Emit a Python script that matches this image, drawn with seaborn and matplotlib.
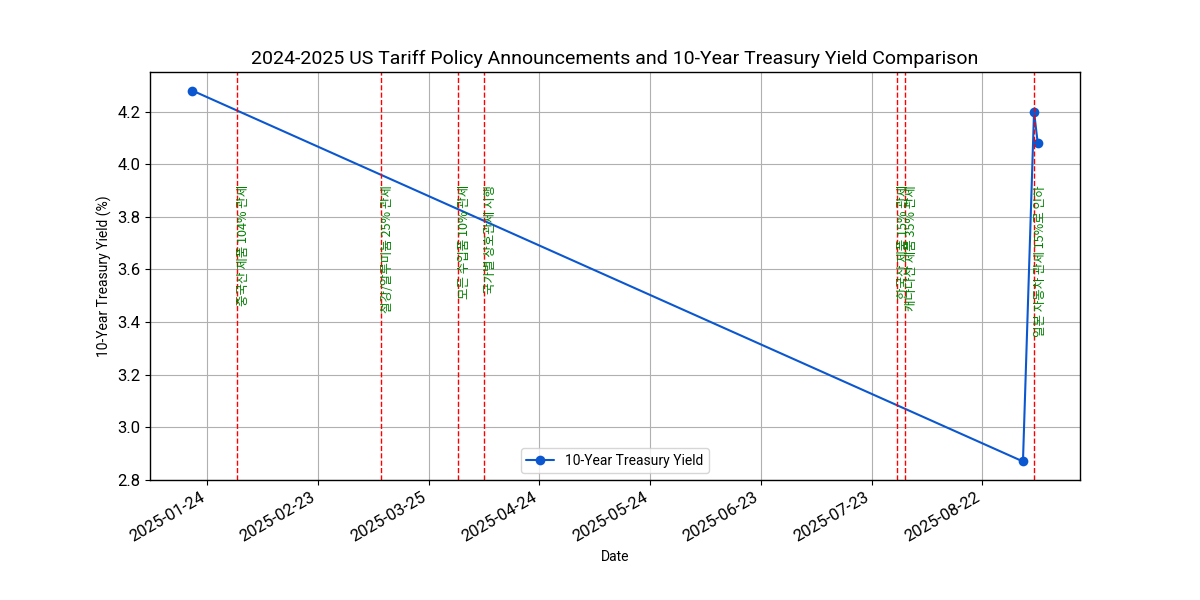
import matplotlib
matplotlib.use("Agg")
import matplotlib.pyplot as plt
import matplotlib.dates as mdates
import seaborn as sns
import pandas as pd

# Data
yield_dates = ["2025-01-20", "2025-09-02", "2025-09-05", "2025-09-06"]
yield_values = [4.28, 2.87, 4.20, 4.08]

event_dates = ["2025-02-01", "2025-03-12", "2025-04-02", "2025-04-09",
               "2025-07-30", "2025-08-01", "2025-09-05"]
event_labels = ["중국산 제품 104% 관세", "철강/알루미늄 25% 관세", "모든 수입품 10% 관세",
                "국가별 상호관세 시행", "한국산 제품 15% 관세", "캐나다산 제품 35% 관세",
                "일본 자동차 관세 15%로 인하"]

sns.set_style("ticks")
plt.rcParams['font.family'] = ['Roboto', 'Noto Sans CJK KR', 'DejaVu Sans']
plt.rcParams['axes.unicode_minus'] = False
for k in ["text.color", "axes.labelcolor", "xtick.color", "ytick.color"]:
    plt.rcParams[k] = "black"

df = pd.DataFrame({"Date": pd.to_datetime(yield_dates), "Yield": yield_values})

fig, ax = plt.subplots(figsize=(12, 6), dpi=100)
sns.lineplot(data=df, x="Date", y="Yield", marker="o", color="#0b57d0",
             linewidth=1.5, markersize=7, markeredgewidth=0,
             label="10-Year Treasury Yield", ax=ax)

for d, lab in zip(pd.to_datetime(event_dates), event_labels):
    ax.axvline(d, color="red", linestyle="--", linewidth=1)
    ax.text(d, 3.92, lab, rotation=90, color="green", fontsize=9,
            ha="left", va="top",
            family=['Noto Sans CJK KR', 'DejaVu Sans'])

ax.grid(True, color="#b0b0b0", linewidth=0.8)
ax.set_axisbelow(True)
locs = pd.date_range("2025-01-24", "2025-09-30", freq="30D")
ax.set_xticks(locs)
ax.xaxis.set_major_formatter(mdates.DateFormatter("%Y-%m-%d"))
ax.set_xlim(pd.Timestamp("2025-01-20") - pd.Timedelta(days=11.45),
            pd.Timestamp("2025-09-06") + pd.Timedelta(days=11.45))

ax.set_title("2024-2025 US Tariff Policy Announcements and 10-Year Treasury Yield Comparison", fontsize=14)
ax.set_xlabel("Date", fontsize=10)
ax.set_ylabel("10-Year Treasury Yield (%)", fontsize=10)
ax.tick_params(axis="x", labelsize=12)
ax.tick_params(axis="y", labelsize=12)
ax.legend(loc="lower center", fontsize=10)
for s in ax.spines.values():
    s.set_linewidth(1)
    s.set_color("black")

fig.autofmt_xdate()
fig.subplots_adjust(left=0.125, right=0.9, top=0.88, bottom=0.2)
fig.savefig("out.png", dpi=100)
